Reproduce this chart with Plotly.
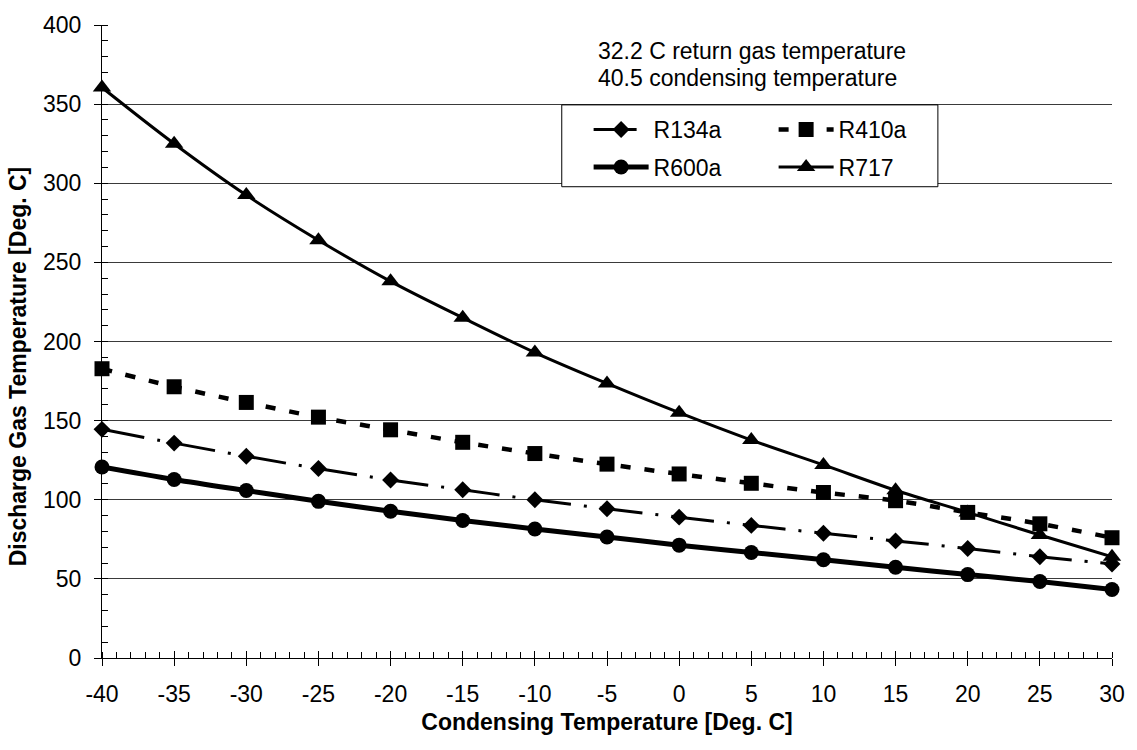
import plotly.graph_objects as go

temps = [-40, -35, -30, -25, -20, -15, -10, -5, 0, 5, 10, 15, 20, 25, 30]
x_tick_labels = ["-40", "-35", "-30", "-25", "-20", "-15", "-10", "-5", "0", "5", "10", "15", "20", "25", "30"]
r134a = [144.5, 135.8, 127.5, 119.7, 112.5, 106.3, 100.0, 94.3, 89.0, 83.8, 78.8, 74.0, 69.2, 64.0, 59.4]
r410a = [182.8, 171.4, 161.5, 152.2, 144.2, 136.3, 129.2, 122.5, 116.3, 110.4, 104.6, 99.4, 92.0, 84.8, 76.0]
r600a = [120.7, 112.8, 105.8, 99.0, 92.7, 86.9, 81.5, 76.5, 71.3, 66.7, 62.1, 57.3, 52.7, 48.3, 43.3]
r717 = [360.5, 325.0, 292.5, 264.0, 238.0, 215.0, 193.0, 173.5, 155.0, 137.7, 122.0, 106.0, 92.0, 77.7, 64.0]

note_lines = ["32.2 C return gas temperature", "40.5 condensing temperature"]
x_title = "Condensing Temperature [Deg. C]"
y_title = "Discharge Gas Temperature [Deg. C]"

FONT = "Liberation Sans, Arial, sans-serif"
FS = 23

fig = go.Figure()
fig.add_trace(go.Scatter(x=temps, y=r134a, name="R134a", mode="lines+markers", legend="legend",
                         line=dict(color="black", width=3, dash="43px,13px,3px,13px", shape="spline"),
                         marker=dict(symbol="diamond", size=13, color="black"), cliponaxis=False))
fig.add_trace(go.Scatter(x=temps, y=r410a, name="R410a", mode="lines+markers", legend="legend",
                         line=dict(color="black", width=4.5, dash="10px,14px", shape="spline"),
                         marker=dict(symbol="square", size=15, color="black"), cliponaxis=False))
fig.add_trace(go.Scatter(x=temps, y=r600a, name="R600a", mode="lines+markers", legend="legend2",
                         line=dict(color="black", width=5, shape="spline"),
                         marker=dict(symbol="circle", size=15, color="black"), cliponaxis=False))
fig.add_trace(go.Scatter(x=temps, y=r717, name="R717", mode="lines+markers", legend="legend2",
                         line=dict(color="black", width=3, shape="spline"),
                         marker=dict(symbol="triangle-up", size=16, color="black"), cliponaxis=False))
# invisible trace to carry the overlay axis (major crossing ticks)
fig.add_trace(go.Scatter(x=[temps[0]], y=[r134a[0]], xaxis="x2", mode="markers",
                         marker=dict(opacity=0), showlegend=False, hoverinfo="skip"))

legend_common = dict(orientation="h", xanchor="left", yanchor="middle",
                     bgcolor="rgba(0,0,0,0)", borderwidth=0,
                     font=dict(size=FS), entrywidth=115, entrywidthmode="pixels",
                     itemwidth=55, traceorder="normal")

fig.update_layout(
    width=1137, height=750, autosize=False,
    paper_bgcolor="white", plot_bgcolor="white",
    margin=dict(l=102, r=20, t=16, b=92),
    font=dict(family=FONT, size=FS, color="black"),
    xaxis=dict(range=[-40, 30], tickmode="array", tickvals=temps, ticktext=x_tick_labels,
               ticks="outside", ticklen=7, tickcolor="black", tickwidth=1,
               showline=True, linecolor="black", linewidth=1,
               showgrid=False, zeroline=False, ticklabelstandoff=8,
               minor=dict(ticks="inside", tickmode="linear", tick0=-40, dtick=1, ticklen=6,
                          tickcolor="black", tickwidth=1, showgrid=False),
               tickfont=dict(size=FS),
               title=dict(text="<b>" + x_title + "</b>", font=dict(size=FS), standoff=8)),
    xaxis2=dict(overlaying="x", matches="x", side="bottom", tickmode="array", tickvals=temps,
                ticks="inside", ticklen=7, tickcolor="black", tickwidth=1,
                showticklabels=False, showgrid=False, showline=False, zeroline=False),
    yaxis=dict(range=[0, 400], tickmode="linear", tick0=0, dtick=50,
               ticks="outside", ticklen=7, tickcolor="black", tickwidth=1,
               showline=True, linecolor="black", linewidth=1,
               showgrid=True, gridcolor="#3a3a3a", gridwidth=1, zeroline=False,
               ticklabelstandoff=8,
               minor=dict(ticks="inside", dtick=10, ticklen=6, tickcolor="black", tickwidth=1, showgrid=False),
               tickfont=dict(size=FS)),
    legend=dict(x=0.4818, y=0.8349, **legend_common),
    legend2=dict(x=0.4818, y=0.7757, **legend_common),
    showlegend=True,
)

# legend frame
fig.add_shape(type="rect", xref="paper", yref="paper", x0=0.4552, x1=0.8276, y0=0.7445, y1=0.8738,
              line=dict(color="black", width=1), fillcolor="white", layer="above")

# y axis title (placed as in the reference, slightly below the plot centre)
fig.add_annotation(text="<b>" + y_title + "</b>", textangle=-90, xref="paper", yref="paper",
                   x=-0.083, y=0.461, xanchor="center", yanchor="middle", showarrow=False,
                   font=dict(size=FS))

fig.add_annotation(text=note_lines[0], xref="paper", yref="paper", x=0.4887, y=0.9595,
                   xanchor="left", yanchor="middle", showarrow=False, font=dict(size=FS))
fig.add_annotation(text=note_lines[1], xref="paper", yref="paper", x=0.4887, y=0.9159,
                   xanchor="left", yanchor="middle", showarrow=False, font=dict(size=FS))

fig.write_html("out.html")
